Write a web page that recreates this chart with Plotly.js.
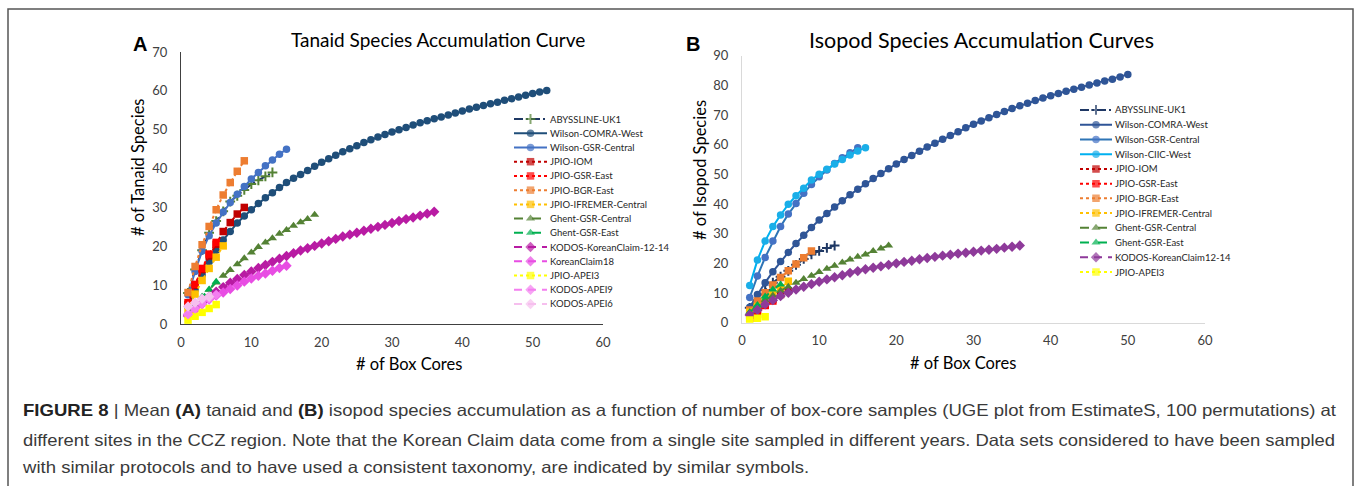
<!DOCTYPE html>
<html>
<head>
<meta charset="utf-8">
<script src="https://cdn.plot.ly/plotly-3.0.1.min.js"></script>
<style>
  html, body { margin: 0; padding: 0; background: #fff; }
  #wrap { position: relative; width: 1358px; height: 486px; overflow: hidden; }
  #chart { position: absolute; left: 0; top: 0; width: 1358px; height: 486px; }
  .cap { position: absolute; left: 23px; white-space: nowrap; font-family: "Liberation Sans", Arial, sans-serif;
         font-size: 16.5px; line-height: 19px; color: #3a3a3a; transform-origin: 0 50%; pointer-events: none; }
  .cap b { color: #222; }
</style>
</head>
<body>
<div id="wrap">
  <div id="chart"></div>
  <div class="cap" id="cap1" style="top:401px"><b>FIGURE 8</b> | Mean <b>(A)</b> tanaid and <b>(B)</b> isopod species accumulation as a function of number of box-core samples (UGE plot from EstimateS, 100 permutations) at</div>
  <div class="cap" id="cap2" style="top:431px">different sites in the CCZ region. Note that the Korean Claim data come from a single site sampled in different years. Data sets considered to have been sampled</div>
  <div class="cap" id="cap3" style="top:458px">with similar protocols and to have used a consistent taxonomy, are indicated by similar symbols.</div>
</div>
<script>
// ---------------- DATA: Panel A (Tanaid) ----------------
const tanaidNames = ["ABYSSLINE-UK1", "Wilson-COMRA-West", "Wilson-GSR-Central", "JPIO-IOM", "JPIO-GSR-East",
  "JPIO-BGR-East", "JPIO-IFREMER-Central", "Ghent-GSR-Central", "Ghent-GSR-East", "KODOS-KoreanClaim-12-14",
  "KoreanClaim18", "JPIO-APEI3", "KODOS-APEI9", "KODOS-APEI6"];
const A_abyssline = [8, 14, 19, 23.5, 26.5, 29, 31.5, 33, 34.5, 36, 37, 38, 39];
const A_comraWest = [4.5, 8.8, 12.6, 16, 19, 21.6, 23.8, 26, 27.8, 29.4,
  31, 32.5, 33.8, 35.1, 36.4, 37.5, 38.5, 39.5, 40.6, 41.6,
  42.5, 43.4, 44.3, 45.1, 45.9, 46.7, 47.4, 48.1, 48.8, 49.4,
  50, 50.6, 51.2, 51.8, 52.3, 52.8, 53.3, 53.8, 54.3, 54.8,
  55.3, 55.8, 56.2, 56.7, 57.1, 57.6, 58, 58.4, 58.9, 59.3,
  59.7, 60.1];
const A_gsrCentral = [7.5, 13.5, 18.8, 22.7, 26, 28.8, 31.3, 33.4, 35.4, 37.3, 39, 40.7, 42.2, 43.7, 45];
const A_iom = [5, 10, 14, 17.5, 20.5, 23.8, 26.1, 28.3, 30];
const A_gsrEast = [5.5, 10.2, 14.3, 18, 21];
const A_bgrEast = [8.1, 14.8, 20.4, 25.1, 29.4, 33.2, 36.4, 39.3, 42];
const A_ifremer = [3.5, 7.7, 11.2, 14.3, 17.2, 20.1];
const A_ghentCentral = [2.3, 4.5, 6.9, 8.8, 10.7, 12.4, 13.9, 15.4, 16.9, 18.4, 19.8, 21, 22.1, 23.2, 24.2, 25.3, 26.2, 27, 28.1];
const A_ghentEast = [2.5, 5, 7, 8.9, 10.9];
const A_kodosKC = [2.3, 4, 5.5, 7, 8.3, 9.5, 10.6, 11.6, 12.6, 13.5,
  14.4, 15.2, 16, 16.8, 17.5, 18.2, 18.9, 19.5, 20.1, 20.7,
  21.3, 21.9, 22.5, 23, 23.5, 24, 24.5, 25, 25.5, 26,
  26.5, 27, 27.4, 27.9, 28.4, 28.9];
const A_kc18 = [2, 3.6, 5.1, 6.3, 7.3, 8.1, 9, 9.9, 10.9, 11.7, 12.4, 13, 13.7, 14.4, 15];
const A_apei3 = [1, 2, 3, 4, 5];
const A_apei9 = [2.5, 4, 5.2, 6.5, 7.5];
const A_apei6 = [4.5, 5.5, 6.5, 7];

// ---------------- DATA: Panel B (Isopod) ----------------
const isopodNames = ["ABYSSLINE-UK1", "Wilson-COMRA-West", "Wilson-GSR-Central", "Wilson-CIIC-West", "JPIO-IOM",
  "JPIO-GSR-East", "JPIO-BGR-East", "JPIO-IFREMER-Central", "Ghent-GSR-Central", "Ghent-GSR-East",
  "KODOS-KoreanClaim12-14", "JPIO-APEI3"];
const B_abyssline = [5, 7.5, 11, 13.5, 15.5, 17.5, 19.5, 21.5, 23, 24.2, 25.2, 26];
const B_comraWest = [5.2, 9.5, 13.5, 17.2, 20.6, 23.7, 26.7, 29.5, 32.1, 34.6,
  36.8, 39, 41.1, 43.1, 45, 46.8, 48.6, 50.3, 51.9, 53.5,
  55, 56.4, 57.8, 59.2, 60.5, 61.8, 63.1, 64.4, 65.7, 66.9,
  68, 69.1, 70.2, 71.2, 72.2, 73.1, 74, 74.9, 75.7, 76.5,
  77.3, 78, 78.7, 79.4, 80.1, 80.8, 81.5, 82.1, 82.8, 83.7];
const B_gsrCentral = [8.5, 15.7, 22, 27.5, 32.4, 36.6, 40.2, 43.6, 46.6, 49.2, 51.5, 53.7, 55.6, 57.3, 59];
const B_ciicWest = [12.5, 21.1, 27.5, 32.4, 36.3, 39.9, 42.8, 45.3, 48.1, 50, 51.7, 53.5, 55, 56.5, 57.9, 59];
const B_iom = [2.5, 4, 6, 8, 9.5, 10.8];
const B_gsrEast = [1.5, 3.1, 5.8, 7.3];
const B_bgrEast = [4.3, 7.3, 10.1, 12.7, 15.2, 17.5, 19.8, 21.9, 24.2];
const B_ifremer = [3.5, 5.5, 7.5, 9.5, 11.6, 14];
const B_ghentCentral = [3.5, 5.7, 7.6, 9.2, 10.8, 12.1, 13.5, 14.7, 15.8, 17.1, 18.2, 19.2, 20.3, 21.3, 22.2, 23, 24.2, 25, 26];
const B_ghentEast = [3.4, 6, 8.8, 11.2, 12.9];
const B_kodosKC = [2.6, 4.3, 6.2, 7.6, 9, 10.1, 11.2, 12.1, 13, 13.8,
  14.6, 15.3, 16, 16.8, 17.4, 18, 18.5, 19, 19.5, 20,
  20.5, 20.9, 21.4, 21.8, 22.2, 22.6, 22.9, 23.3, 23.6, 23.9,
  24.3, 24.6, 24.9, 25.3, 25.6, 26];
const B_apei3 = [0.9, 1.5, 2];

const xTicks = [0, 10, 20, 30, 40, 50, 60];

// ---------------- STYLES ----------------
const DOT = "dot", DASH = "dash", LONG = "8px,6px", DD = "9px,3px,2px,3px";
const stylesA = [
  {lc: "#1F3864", mc: "#548235", sym: "cross-thin", dash: DD, sz: 7},
  {lc: "#1F4E79", mc: "#1F4E79", sym: "circle", dash: "solid", sz: 7.5},
  {lc: "#4472C4", mc: "#4472C4", sym: "circle", dash: "solid", sz: 7.5},
  {lc: "#C00000", mc: "#C00000", sym: "square", dash: DOT, sz: 7.5},
  {lc: "#FF0000", mc: "#FF0000", sym: "square", dash: DOT, sz: 7.5},
  {lc: "#ED7D31", mc: "#ED7D31", sym: "square", dash: DOT, sz: 7.5},
  {lc: "#FFC000", mc: "#FFC000", sym: "square", dash: DOT, sz: 7.5},
  {lc: "#548235", mc: "#548235", sym: "triangle-up", dash: DASH, sz: 8},
  {lc: "#00B050", mc: "#00B050", sym: "triangle-up", dash: DASH, sz: 8},
  {lc: "#B81BA3", mc: "#B81BA3", sym: "diamond", dash: LONG, sz: 8},
  {lc: "#E84DE3", mc: "#E84DE3", sym: "diamond", dash: LONG, sz: 8},
  {lc: "#FFFF00", mc: "#FFFF00", sym: "square", dash: DOT, sz: 7.5},
  {lc: "#F47EF0", mc: "#F47EF0", sym: "diamond", dash: LONG, sz: 8},
  {lc: "#F6BFEE", mc: "#F6BFEE", sym: "diamond", dash: LONG, sz: 8}
];
const stylesB = [
  {lc: "#1F3864", mc: "#1F3864", sym: "cross-thin", dash: DD, sz: 7},
  {lc: "#2F5597", mc: "#2F5597", sym: "circle", dash: "solid", sz: 7.5},
  {lc: "#2E75B6", mc: "#4472C4", sym: "circle", dash: "solid", sz: 7.5},
  {lc: "#00B0F0", mc: "#1AAEE8", sym: "circle", dash: "solid", sz: 7.5},
  {lc: "#C00000", mc: "#C00000", sym: "square", dash: DOT, sz: 7.5},
  {lc: "#FF0000", mc: "#FF0000", sym: "square", dash: DOT, sz: 7.5},
  {lc: "#ED7D31", mc: "#ED7D31", sym: "square", dash: DOT, sz: 7.5},
  {lc: "#FFC000", mc: "#FFC000", sym: "square", dash: DOT, sz: 7.5},
  {lc: "#548235", mc: "#548235", sym: "triangle-up", dash: DASH, sz: 8},
  {lc: "#00B050", mc: "#00B050", sym: "triangle-up", dash: DASH, sz: 8},
  {lc: "#8E3A9A", mc: "#8E3A9A", sym: "diamond", dash: LONG, sz: 8},
  {lc: "#FFFF00", mc: "#FFFF00", sym: "square", dash: DOT, sz: 7.5}
];
const seriesA = [A_abyssline, A_comraWest, A_gsrCentral, A_iom, A_gsrEast, A_bgrEast, A_ifremer,
  A_ghentCentral, A_ghentEast, A_kodosKC, A_kc18, A_apei3, A_apei9, A_apei6];
const seriesB = [B_abyssline, B_comraWest, B_gsrCentral, B_ciicWest, B_iom, B_gsrEast, B_bgrEast,
  B_ifremer, B_ghentCentral, B_ghentEast, B_kodosKC, B_apei3];

const FONT = "Lato, 'Open Sans', sans-serif";
const traces = [];
const annotations = [];

function markerFor(st, size) {
  const m = {symbol: st.sym, size: size, color: st.mc};
  if (st.sym === "cross-thin") m.line = {color: st.mc, width: 2};
  else m.line = {width: 0};
  return m;
}

function addPanel(names, series, styles, xa, ya, lxa, lya) {
  series.forEach((vals, i) => {
    const st = styles[i];
    traces.push({
      type: "scatter", mode: "lines+markers", name: names[i],
      x: vals.map((_, k) => k + 1), y: vals,
      xaxis: xa, yaxis: ya, showlegend: false, hoverinfo: "x+y+name",
      line: {color: st.lc, width: 2, dash: st.dash},
      marker: markerFor(st, st.sz)
    });
    // compact legend entry
    traces.push({
      type: "scatter", mode: "lines+markers", name: names[i],
      x: [0, 0.5, 1], y: [i, i, i],
      xaxis: lxa, yaxis: lya, showlegend: false, hoverinfo: "skip",
      line: {color: st.lc, width: 2, dash: st.dash},
      marker: markerFor(st, [0, st.sz, 0])
    });
    annotations.push({
      xref: lxa, yref: lya, x: 1, y: i, xanchor: "left", yanchor: "middle", xshift: 1,
      text: names[i], showarrow: false, font: {family: FONT, size: 9.5, color: "#262626"}
    });
  });
}

addPanel(tanaidNames, seriesA, stylesA, "x", "y", "x3", "y3");
addPanel(isopodNames, seriesB, stylesB, "x2", "y2", "x4", "y4");

const W = 1358, H = 486;
const px = v => v / W;
const py = v => (H - v) / H;

function axis(domain, range, tickvals, lineColor) {
  return {
    domain: domain, range: range, tickvals: tickvals, showline: true, linecolor: lineColor, linewidth: 1,
    showgrid: false, zeroline: false, ticks: "", fixedrange: true,
    tickfont: {family: FONT, size: 13, color: "#404040"}
  };
}
function hidden(domain, range) {
  return {domain: domain, range: range, visible: false, fixedrange: true, showgrid: false, zeroline: false};
}

const layout = {
  width: W, height: H,
  margin: {l: 0, r: 0, t: 0, b: 0},
  paper_bgcolor: "#ffffff", plot_bgcolor: "rgba(0,0,0,0)",
  showlegend: false,
  xaxis: Object.assign(axis([px(181), px(603)], [0, 60], xTicks, "#404040"), {anchor: "y", ticklabelstandoff: 6}),
  yaxis: Object.assign(axis([py(324), py(52)], [0, 70], [0, 10, 20, 30, 40, 50, 60, 70], "#404040"), {anchor: "x", ticklabelstandoff: 10}),
  xaxis2: Object.assign(axis([px(742), px(1205)], [0, 60], xTicks, "#D9D9D9"), {anchor: "y2", ticklabelstandoff: 6}),
  yaxis2: Object.assign(axis([py(322.7), py(55.7)], [0, 90], [0, 10, 20, 30, 40, 50, 60, 70, 80, 90], "#D9D9D9"), {anchor: "x2", ticklabelstandoff: 10}),
  xaxis3: Object.assign(hidden([px(514), px(547)], [0, 1]), {anchor: "y3"}),
  yaxis3: Object.assign(hidden([py(311.1), py(111.9)], [13.5, -0.5]), {anchor: "x3"}),
  xaxis4: Object.assign(hidden([px(1080), px(1112)], [0, 1]), {anchor: "y4"}),
  yaxis4: Object.assign(hidden([py(279.4), py(102.6)], [11.5, -0.5]), {anchor: "x4"}),
  shapes: [
    {type: "rect", xref: "paper", yref: "paper", x0: px(8), x1: px(1353), y0: -0.05, y1: py(9),
     line: {color: "#555555", width: 1.5}, fillcolor: "rgba(0,0,0,0)", layer: "below"}
  ],
  annotations: annotations.concat([
    {xref: "paper", yref: "paper", x: px(438), y: py(40), xanchor: "center", yanchor: "middle", showarrow: false,
     text: "Tanaid Species Accumulation Curve", font: {family: FONT, size: 19, color: "#000"}},
    {xref: "paper", yref: "paper", x: px(981), y: py(40), xanchor: "center", yanchor: "middle", showarrow: false,
     text: "Isopod Species Accumulation Curves", font: {family: FONT, size: 21.5, color: "#000"}},
    {xref: "paper", yref: "paper", x: px(140), y: py(44), xanchor: "center", yanchor: "middle", showarrow: false,
     text: "<b>A</b>", font: {family: "Liberation Sans, Arial, sans-serif", size: 20, color: "#000"}},
    {xref: "paper", yref: "paper", x: px(693), y: py(44), xanchor: "center", yanchor: "middle", showarrow: false,
     text: "<b>B</b>", font: {family: "Liberation Sans, Arial, sans-serif", size: 20, color: "#000"}},
    {xref: "paper", yref: "paper", x: px(138), y: py(167), xanchor: "center", yanchor: "middle", showarrow: false,
     textangle: -90, text: "# of Tanaid Species", font: {family: FONT, size: 16.5, color: "#000"}},
    {xref: "paper", yref: "paper", x: px(409), y: py(364), xanchor: "center", yanchor: "middle", showarrow: false,
     text: "# of Box Cores", font: {family: FONT, size: 16.5, color: "#000"}},
    {xref: "paper", yref: "paper", x: px(700), y: py(170), xanchor: "center", yanchor: "middle", showarrow: false,
     textangle: -90, text: "# of Isopod Species", font: {family: FONT, size: 16.5, color: "#000"}},
    {xref: "paper", yref: "paper", x: px(963), y: py(363), xanchor: "center", yanchor: "middle", showarrow: false,
     text: "# of Box Cores", font: {family: FONT, size: 16.5, color: "#000"}}
  ])
};

Plotly.newPlot("chart", traces, layout, {displayModeBar: false, staticPlot: true});

// fit caption lines to the reference line widths (line 3 uses line 1's scale)
function fitCaption() {
  const ids = ["cap1", "cap2", "cap3"];
  const els = ids.map(id => document.getElementById(id));
  els.forEach(el => { el.style.transform = "none"; });
  const w1 = els[0].getBoundingClientRect().width;
  const w2 = els[1].getBoundingClientRect().width;
  if (w1 > 0 && w2 > 0) {
    const s1 = 1313 / w1, s2 = 1312 / w2;
    els[0].style.transform = "scaleX(" + s1 + ")";
    els[1].style.transform = "scaleX(" + s2 + ")";
    els[2].style.transform = "scaleX(" + s1 + ")";
  }
}
fitCaption();
if (document.fonts && document.fonts.ready) document.fonts.ready.then(fitCaption);
</script>
</body>
</html>
